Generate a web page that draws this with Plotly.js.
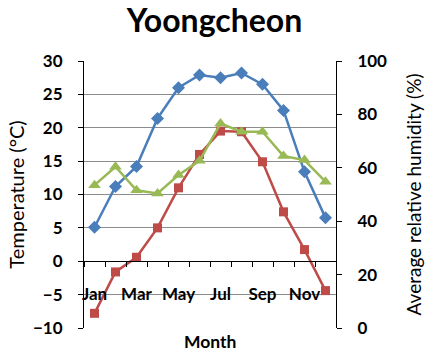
<!DOCTYPE html>
<html>
<head>
<meta charset="utf-8">
<script src="https://cdn.plot.ly/plotly-3.0.1.min.js"></script>
<style>html,body{margin:0;padding:0;background:#fff}#chart{width:429px;height:352px}</style>
</head>
<body>
<div id="chart"></div>
<script>
var months = ['Jan','Feb','Mar','Apr','May','Jun','Jul','Aug','Sep','Oct','Nov','Dec'];
var monthLabels = ['Jan','','Mar','','May','','Jul','','Sep','','Nov',''];
var maxTemp = [5.1, 11.2, 14.2, 21.4, 26.0, 27.9, 27.5, 28.2, 26.5, 22.6, 13.4, 6.5];
var minTemp = [-7.8, -1.6, 0.6, 5.0, 11.0, 16.0, 19.5, 19.4, 14.9, 7.4, 1.75, -4.4];
var humidity = [53.5, 60.4, 51.6, 50.4, 57.3, 62.6, 76.6, 73.5, 73.5, 64.4, 62.9, 54.8];

var FONT = 'Lato, "Open Sans", sans-serif';

var traces = [
  {x: months, y: maxTemp, name: 'Max', type: 'scatter', mode: 'lines+markers',
   line: {color: '#4A7EBB', width: 2.5}, marker: {symbol: 'diamond', size: 10, color: '#4A7EBB'}},
  {x: months, y: minTemp, name: 'Min', type: 'scatter', mode: 'lines+markers',
   line: {color: '#BE4B48', width: 2.5}, marker: {symbol: 'square', size: 9, color: '#BE4B48'}},
  {x: months, y: humidity, name: 'Humidity', type: 'scatter', mode: 'lines+markers', yaxis: 'y2',
   line: {color: '#98B954', width: 2.5}, marker: {symbol: 'triangle-up', size: 11, color: '#98B954'}}
];

var layout = {
  width: 429, height: 352,
  margin: {l: 84, r: 93, t: 61, b: 24, pad: 0},
  paper_bgcolor: '#fff', plot_bgcolor: '#fff',
  showlegend: false,
  font: {family: FONT, color: '#000'},
  title: {text: '<b>Yoongcheon</b>', font: {family: FONT, size: 32, color: '#000'},
          x: 0.5, xanchor: 'center', y: 1 - 21/352, yanchor: 'middle'},
  xaxis: {
    type: 'category', anchor: 'free', position: 0.25,
    range: [-0.5, 11.5],
    tickvals: months, ticktext: monthLabels, tickson: 'boundaries', tickangle: 0,
    ticks: 'outside', ticklen: 5, tickcolor: '#000', tickwidth: 1,
    ticklabelstandoff: 17,
    showline: true, linecolor: '#000', linewidth: 1,
    showgrid: false, zeroline: false,
    tickfont: {family: FONT, size: 17, color: '#000', weight: 'bold'},
    title: {text: ''}
  },
  yaxis: {
    range: [-10, 30], dtick: 5, tick0: 0,
    ticks: 'outside', ticklen: 5, tickcolor: '#000',
    ticklabelstandoff: 12,
    showline: true, linecolor: '#000', linewidth: 1,
    showgrid: true, gridcolor: '#8c8c8c', gridwidth: 1, zeroline: false,
    tickfont: {family: FONT, size: 17, color: '#000', weight: 'bold'},
    title: {text: 'Temperature (°C)', font: {family: FONT, size: 20, color: '#000'}, standoff: 3}
  },
  yaxis2: {
    overlaying: 'y', side: 'right', range: [0, 100], dtick: 20,
    ticks: 'outside', ticklen: 5, tickcolor: '#000',
    ticklabelstandoff: 12,
    showline: true, linecolor: '#000', linewidth: 1,
    showgrid: false, zeroline: false,
    tickfont: {family: FONT, size: 17, color: '#000', weight: 'bold'},
    title: {text: 'Average relative humidity (%)', font: {family: FONT, size: 19, color: '#000'}, standoff: 21}
  },
  annotations: [
    {text: '<b>Month</b>', xref: 'paper', yref: 'paper', x: 0.5, y: -0.05, xanchor: 'center', yanchor: 'middle',
     showarrow: false, font: {family: FONT, size: 17.5, color: '#000'}}
  ]
};

Plotly.newPlot('chart', traces, layout, {displayModeBar: false, staticPlot: true});
</script>
</body>
</html>
